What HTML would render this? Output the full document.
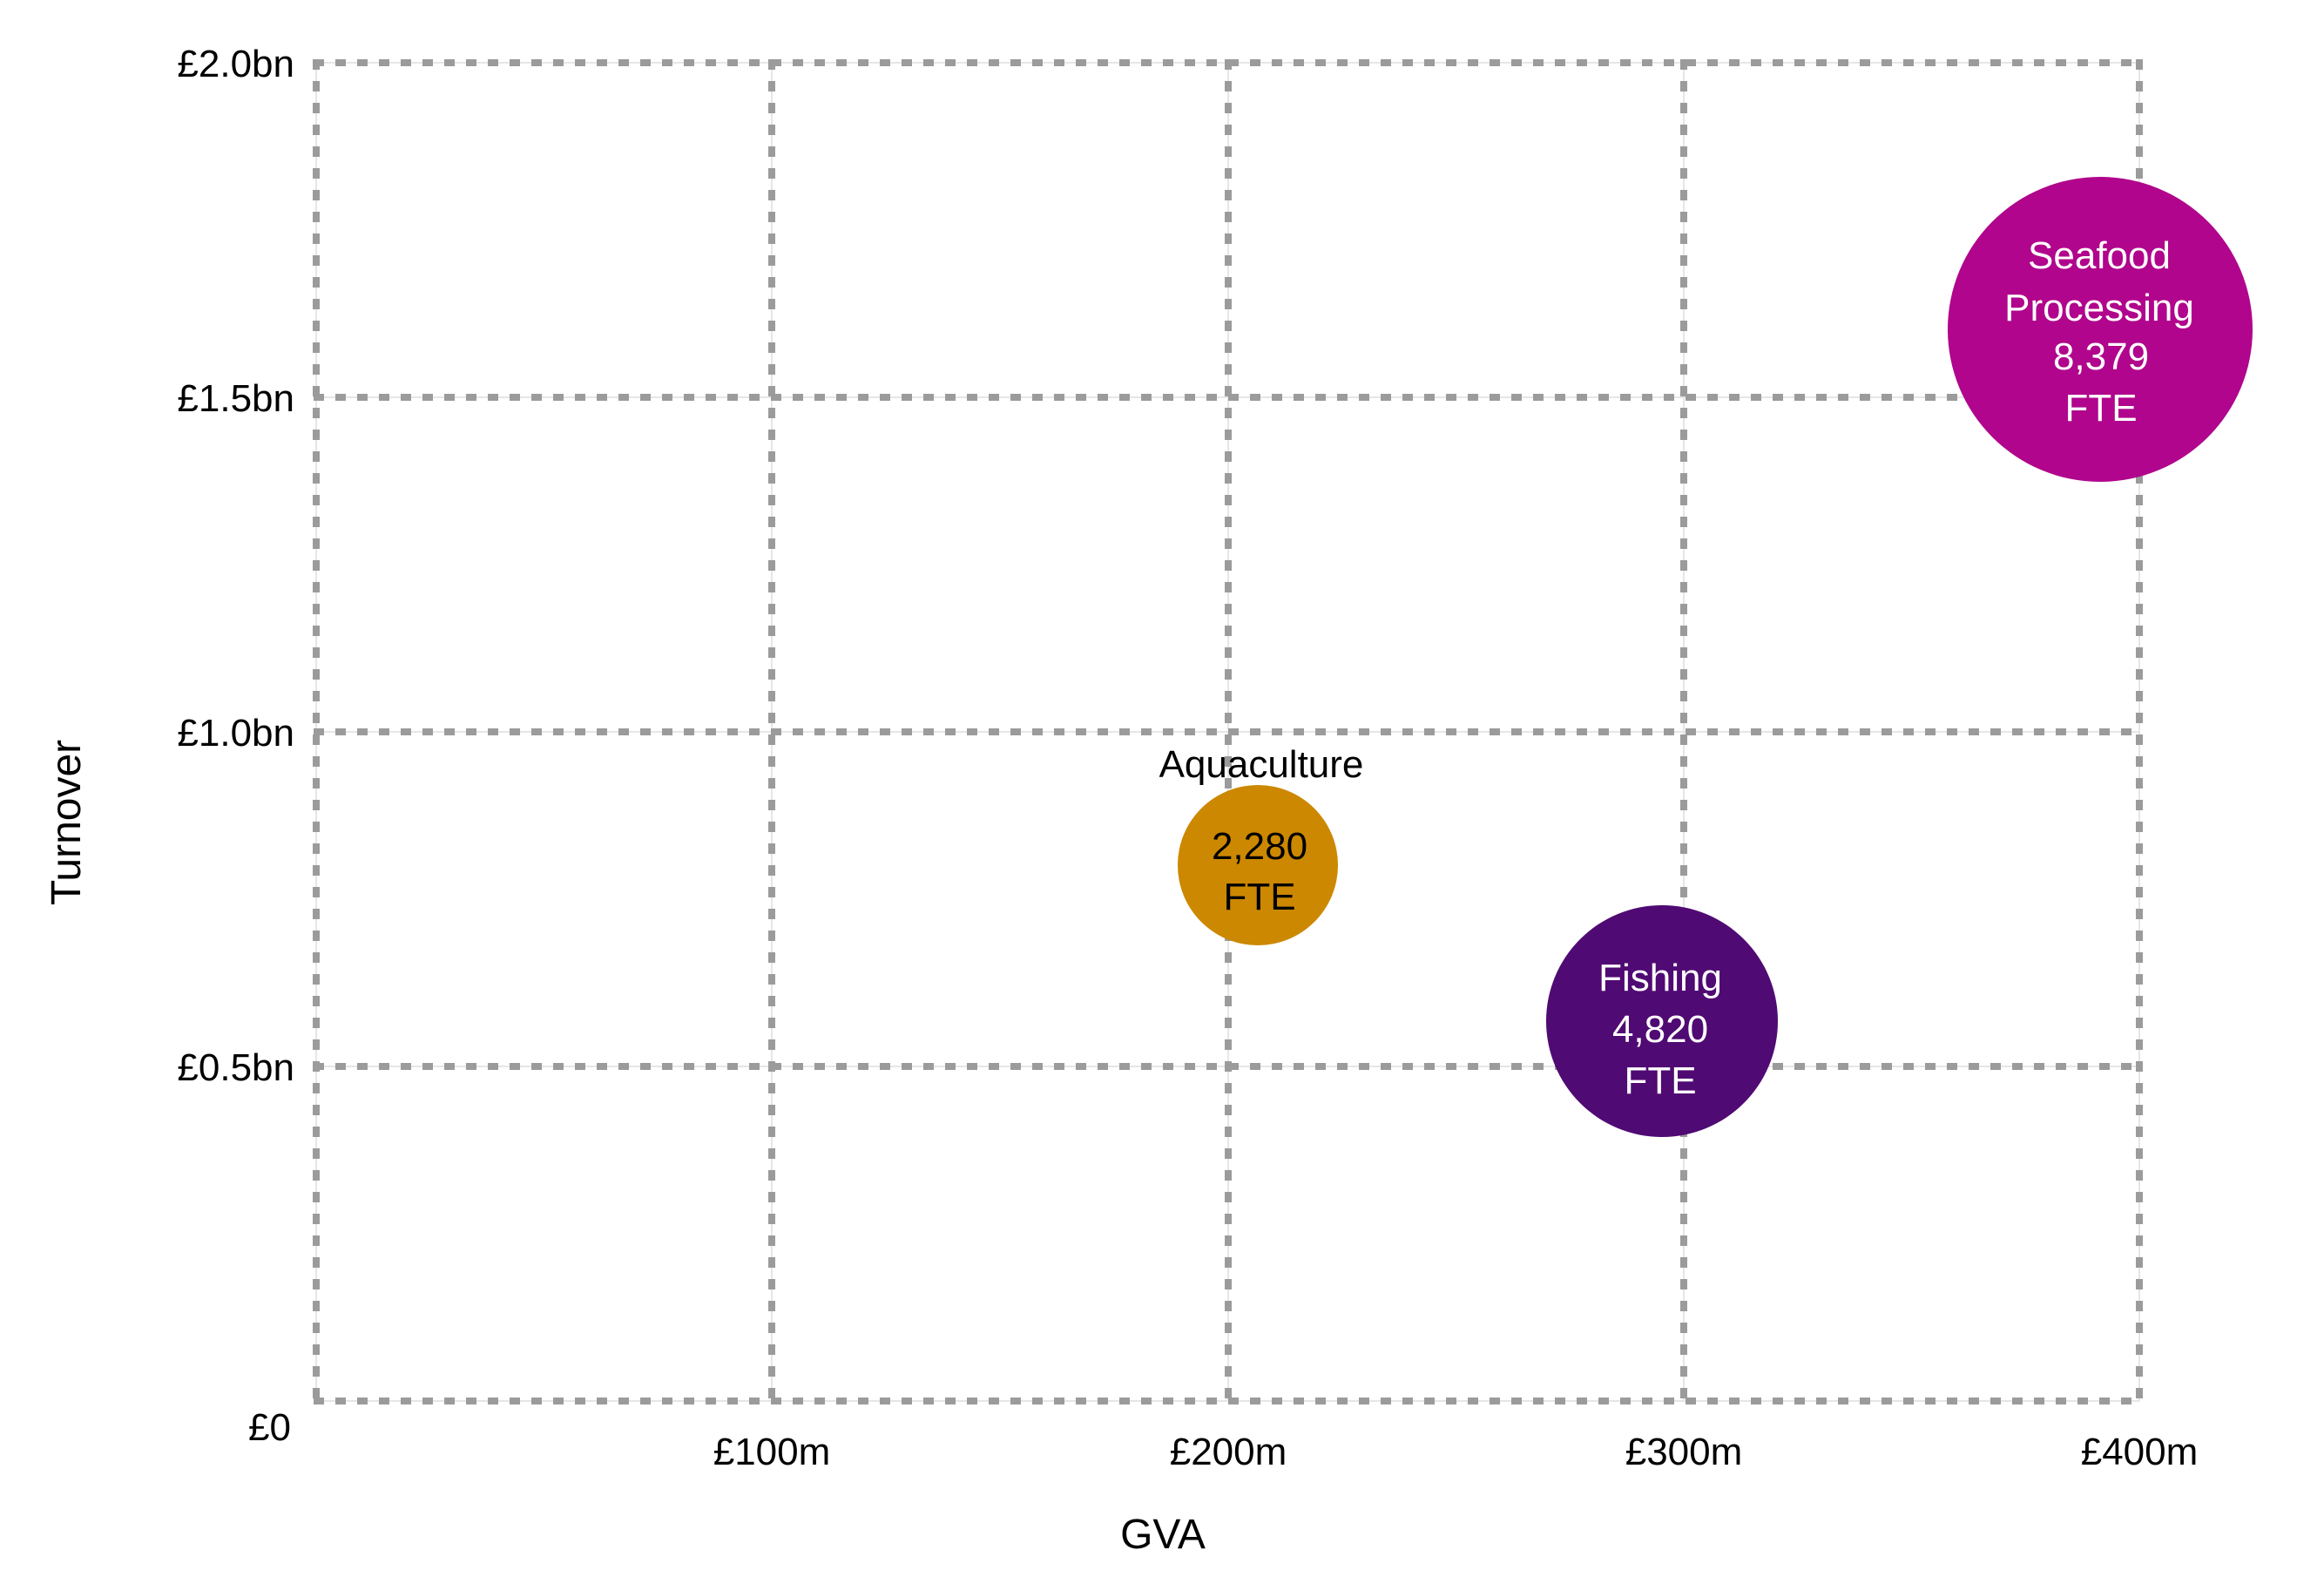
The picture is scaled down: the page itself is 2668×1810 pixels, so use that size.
<!DOCTYPE html>
<html><head><meta charset="utf-8"><style>
html,body{margin:0;padding:0;background:#fff;}
svg{display:block;}
text{font-family:"Liberation Sans",sans-serif;}
</style></head><body>
<svg width="2668" height="1810" viewBox="0 0 2668 1810" xmlns="http://www.w3.org/2000/svg">
<g stroke="#e6e6e6" stroke-width="2">
<line x1="363" y1="72" x2="2456" y2="72"/><line x1="363" y1="456" x2="2456" y2="456"/><line x1="363" y1="840" x2="2456" y2="840"/><line x1="363" y1="1224" x2="2456" y2="1224"/><line x1="363" y1="1608" x2="2456" y2="1608"/>
<line x1="363" y1="72" x2="363" y2="1608"/><line x1="886" y1="72" x2="886" y2="1608"/><line x1="1410" y1="72" x2="1410" y2="1608"/><line x1="1933" y1="72" x2="1933" y2="1608"/><line x1="2456" y1="72" x2="2456" y2="1608"/>
</g>
<g stroke="#9b9b9b" stroke-width="8" stroke-dasharray="12 13">
<line x1="360" y1="72" x2="2460" y2="72"/><line x1="360" y1="456" x2="2460" y2="456"/><line x1="360" y1="840" x2="2460" y2="840"/><line x1="360" y1="1224" x2="2460" y2="1224"/><line x1="360" y1="1608" x2="2460" y2="1608"/>
<line x1="363" y1="68" x2="363" y2="1612"/><line x1="886" y1="68" x2="886" y2="1612"/><line x1="1410" y1="68" x2="1410" y2="1612"/><line x1="1933" y1="68" x2="1933" y2="1612"/><line x1="2456" y1="68" x2="2456" y2="1612"/>
</g>
<g font-size="44" fill="#000" text-anchor="end">
<text x="338" y="88">£2.0bn</text><text x="338" y="472">£1.5bn</text><text x="338" y="856">£1.0bn</text><text x="338" y="1240">£0.5bn</text><text x="334" y="1653">£0</text>
</g>
<g font-size="44" fill="#000" text-anchor="middle">
<text x="886" y="1681">£100m</text><text x="1410" y="1681">£200m</text><text x="1933" y="1681">£300m</text><text x="2456" y="1681">£400m</text>
<text x="1335" y="1777" font-size="48">GVA</text>
<text transform="translate(92,944) rotate(-90)" font-size="48">Turnover</text>
</g>
<circle cx="2411" cy="378" r="175" fill="#b0058c"/>
<circle cx="1444" cy="993" r="92" fill="#cc8800"/>
<circle cx="1908" cy="1172" r="133" fill="#500a73"/>
<g font-size="44" text-anchor="middle">
<text x="2410" y="308" fill="#fff">Seafood</text><text x="2410" y="368" fill="#fff">Processing</text><text x="2412" y="424" fill="#fff">8,379</text><text x="2412" y="483" fill="#fff">FTE</text>
<text x="1448" y="892" fill="#000">Aquaculture</text>
<text x="1446" y="986" fill="#000">2,280</text><text x="1446" y="1044" fill="#000">FTE</text>
<text x="1906" y="1137" fill="#fff">Fishing</text><text x="1906" y="1196" fill="#fff">4,820</text><text x="1906" y="1255" fill="#fff">FTE</text>
</g>
</svg>
</body></html>
